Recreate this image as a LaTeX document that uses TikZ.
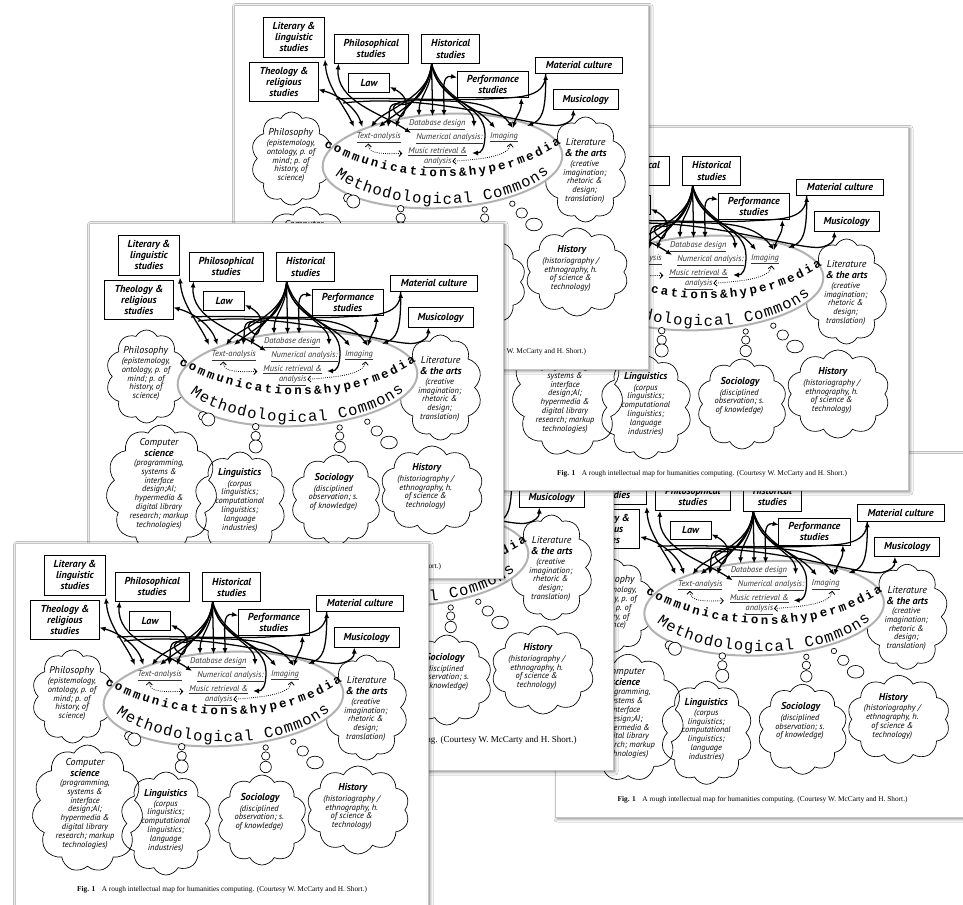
\documentclass[tikz,border=0pt]{standalone}
\usepackage{fontspec}
\setmainfont{PT Sans}
\newfontfamily\capfont{Liberation Serif}
\newfontfamily\lmono{Liberation Mono}
\usetikzlibrary{shapes.symbols,shapes.geometric,arrows.meta,decorations.text,shadows.blur}

\newcommand\boxfont{\fontsize{7.6}{8.3}\selectfont\bfseries\itshape}
\newcommand\ttlfont{\fontsize{7.5}{8.1}\selectfont\itshape}
\newcommand\ttlbf{\bfseries}
\newcommand\parfont{\fontsize{6.3}{6.6}\selectfont\itshape}
\newcommand\labfont{\fontsize{6.3}{5.7}\selectfont\itshape\color{black!80}}
\newcommand\commfont{\lmono\bfseries\fontsize{9.3}{9.3}\selectfont}
\newcommand\methfont{\lmono\fontsize{11.6}{11.6}\selectfont}

\tikzset{
 boxsty/.style={draw, fill=white, line width=0.6pt, inner sep=0pt, align=center, font=\boxfont},
 cloudsh/.style={cloud, draw, line width=0.5pt, cloud puffs=10, cloud puff arc=125, cloud ignores aspect, inner sep=0pt},
 ttl/.style={inner sep=0pt, align=center, font=\ttlfont},
 par/.style={inner sep=0pt, align=center, font=\parfont},
 lab/.style={inner sep=0pt, align=center, font=\labfont},
 bub/.style={draw, fill=white, line width=0.5pt},
 link/.style={line width=0.95pt, {Latex[length=4.5pt,width=3.8pt]}-{Latex[length=4.5pt,width=3.8pt]}},
 linkto/.style={line width=0.95pt, -{Latex[length=4.5pt,width=3.8pt]}},
 plain/.style={line width=0.95pt},
 dotlink/.style={densely dotted, line width=0.6pt, {Straight Barb[length=2.2pt,width=4.5pt]}-{Straight Barb[length=2.2pt,width=4.5pt]}},
 capsty/.style={inner sep=0pt, font=\capfont\fontsize{5.5}{6}\selectfont},
 pagefill/.style={fill=white, blur shadow={shadow xshift=1.3pt, shadow yshift=-1.3pt, shadow blur radius=2.5pt, shadow opacity=55}},
 pageline/.style={draw=gray!45, line width=0.4pt}
}

\newcommand\pagebox[4]{%
 \fill[pagefill] (#1,#2) rectangle (#3,#4);
 \draw[pageline] (#1,#2) rectangle (#3,#4);
}

\newcommand\mapcaption{\textbf{Fig. 1}\hspace{0.9em}A rough intellectual map for humanities computing. (Courtesy W. McCarty and H. Short.)}

\newcommand\mapdiagram[1]{%
 % clouds
 \node[cloudsh, minimum width=60.75pt, minimum height=69.75pt] (#1phi) at (72.5,696.5) {};
 \node[cloudsh, minimum width=62.25pt, minimum height=78.75pt] (#1lit) at (366.5,707.5) {};
 \node[cloudsh, cloud puffs=11, minimum width=83.25pt, minimum height=95.25pt] (#1cs) at (87.5,808.5) {};
 \node[cloudsh, minimum width=69pt, minimum height=77.25pt] (#1lin) at (166,823.5) {};
 \node[cloudsh, minimum width=67.5pt, minimum height=67.5pt] (#1soc) at (262,820) {};
 \node[cloudsh, minimum width=77.25pt, minimum height=66pt] (#1his) at (358,810) {};
 % the commons
 \node[ellipse, draw=gray!60, fill=white, line width=1.5pt, minimum width=180pt, minimum height=70.5pt, rotate=3, inner sep=0pt] (#1mc) at (223.5,699) {};
 % thought bubbles
 \draw[bub] (129,736) circle[radius=4.5];
 \draw[bub] (134.3,739.5) circle[radius=6.5];
 \draw[bub] (181.7,746.7) circle[radius=3.3];
 \draw[bub] (181.7,756) circle[radius=4.7];
 \draw[bub] (181.7,766.5) circle[radius=6.5];
 \draw[bub] (265.7,747.5) circle[radius=2.7];
 \draw[bub] (265.7,756) circle[radius=4.2];
 \draw[bub] (265.7,767) circle[radius=5.7];
 \draw[bub] (293.3,741.7) circle[radius=2.7];
 \draw[bub] (302.7,751) ellipse[x radius=5.8, y radius=5];
 \draw[bub] (315,762.5) ellipse[x radius=8.3, y radius=6.3];
 % cloud texts
 \node[ttl] (#1phiT) at (71.7,670.5) {Philosophy};
 \node[par] (#1phiP) at (72,699) {(epistemology,\\ontology, p. of\\mind; p. of\\history, of\\science)};
 \node[ttl] (#1litT) at (366.7,686) {Literature\\\ttlbf \& the arts};
 \node[par] (#1litP) at (365.7,719.8) {(creative\\imagination;\\rhetoric \&\\design;\\translation)};
 \node[ttl] (#1csT) at (85,767.3) {Computer\\\ttlbf science};
 \node[par] (#1csP) at (85,814.3) {(programming,\\systems \&\\interface\\design;AI;\\hypermedia \&\\digital library\\research; markup\\technologies)};
 \node[ttl, font=\ttlfont\bfseries] (#1linT) at (165.7,793.5) {Linguistics};
 \node[par] (#1linP) at (165.7,826) {(corpus\\linguistics;\\computational\\linguistics;\\language\\industries)};
 \node[ttl, font=\ttlfont\bfseries] (#1socT) at (260,797.8) {Sociology};
 \node[par] (#1socP) at (259.3,817.8) {(disciplined\\observation; s.\\of knowledge)};
 \node[ttl, font=\ttlfont\bfseries] (#1hisT) at (352.7,788.2) {History};
 \node[par] (#1hisP) at (351.7,812.5) {(historiography /\\ethnography, h.\\of science \&\\technology)};
 % labels inside the commons
 \node[lab] (#1db) at (218.3,662.5) {\underline{Database design}};
 \node[lab] (#1ta) at (159.7,676) {\underline{Text-analysis}};
 \node[lab] (#1na) at (230.5,676.7) {\underline{Numerical analysis:}};
 \node[lab] (#1im) at (285,675.3) {\underline{Imaging}};
 \node[lab] (#1mr) at (218.8,695.5) {\underline{Music retrieval \&}\\\underline{analysis}};
 % curved texts
 \path[decorate, decoration={text along path, text={|\commfont|communications{\&}hypermedia}, text align={fit to path}}]
   (105,684) .. controls (175,724) and (275,727) .. (342,682);
 \path[decorate, decoration={text along path, text={|\methfont|Methodological Commons}, text align={fit to path}}]
   (116,713) .. controls (160,750) and (280,754) .. (330,711);
 % boxes
 \node[boxsty, minimum width=46pt, minimum height=30pt] (#1bLit) at (75,575) {Literary \&\\linguistic\\studies};
 \node[boxsty, minimum width=55.7pt, minimum height=21.5pt] (#1bPhil) at (152.2,586.7) {Philosophical\\studies};
 \node[boxsty, minimum width=43.5pt, minimum height=22pt] (#1bHist) at (231.7,587) {Historical\\studies};
 \node[boxsty, minimum width=51.2pt, minimum height=29.5pt] (#1bTheo) at (64.9,619.7) {Theology \&\\religious\\studies};
 \node[boxsty, minimum width=31pt, minimum height=13.7pt] (#1bLaw) at (150,620.9) {Law};
 \node[boxsty, minimum width=53.3pt, minimum height=20pt] (#1bPerf) at (273.8,622.4) {Performance\\studies};
 \node[boxsty, minimum width=65pt, minimum height=12.5pt] (#1bMat) at (360,603.4) {Material culture};
 \node[boxsty, minimum width=48.75pt, minimum height=14.7pt] (#1bMus) at (366.5,637.5) {Musicology};
 % connector ends
 \coordinate (#1cLit) at (106,597.5);
 \coordinate (#1cTheo) at (99.5,627.5);
 \coordinate (#1cPhil) at (119.5,601.5);
 \coordinate (#1cHist) at (212.7,602);
 \coordinate (#1cLaw) at (171,625);
 \coordinate (#1cPerfL) at (238,615.5);
 \coordinate (#1cPerfB) at (302.3,636);
 \coordinate (#1cMat) at (326.7,612);
 \coordinate (#1cMus) at (354.3,647.5);
 \coordinate (#1tA) at (135,665);
 \coordinate (#1tB) at (143.5,665);
 \coordinate (#1tC) at (152,665);
 \coordinate (#1tD) at (160,665);
 \coordinate (#1tE) at (169,665);
 \coordinate (#1tF) at (177,665);
 \coordinate (#1nA) at (192,671);
 \coordinate (#1dA) at (200,654);
 \coordinate (#1dB) at (213.5,654);
 \coordinate (#1dC) at (225,654);
 \coordinate (#1nB) at (255,665);
 \coordinate (#1iA) at (276,666);
 \coordinate (#1iB) at (294,666);
 \coordinate (#1iC) at (308,664);
 \coordinate (#1mR) at (253,691);
 \coordinate (#1lS) at (117,637);
 \coordinate (#1lT) at (124,641);
 \coordinate (#1xT) at (149.3,681.5);
 \coordinate (#1xM) at (183.3,691.5);
 \coordinate (#1xI) at (291.7,681.5);
 \coordinate (#1xA) at (233.3,699.3);
 % connectors
 \draw[link] (#1cLit) .. controls +(2,28) and +(-10,-22) .. (#1tA);
 \draw[link] (#1cTheo) .. controls +(22,6) and +(-6,-18) .. (#1tB);
 \draw[link] (#1cPhil) .. controls +(-3,38) and +(-30,-20) .. (#1nA);
 \draw[linkto] (#1cHist) .. controls +(-2,34) and +(14,-18) .. (#1tC);
 \draw[linkto] (#1cHist) .. controls +(-6,36) and +(22,-18) .. (#1tD);
 \draw[linkto] (#1cHist) .. controls +(-2,22) and +(16,4) .. (180,642) .. controls +(-12,-2) and +(2,-14) .. (#1tE);
 \draw[linkto] (#1cHist) .. controls +(-3,30) and +(6,-20) .. (#1tF);
 \draw[linkto] (#1cHist) .. controls +(0,25) and +(0,-20) .. (#1dA);
 \draw[linkto] (#1cHist) .. controls +(0,18) and +(0,-18) .. (#1dB);
 \draw[link] (#1cPerfL) .. controls +(-16,-3) and +(0,-25) .. (#1dC);
 \draw[linkto] (#1cHist) .. controls +(4,32) and +(0,-22) .. (#1nB);
 \draw[linkto] (#1cHist) .. controls +(6,36) and +(-22,-26) .. (#1iA);
 \draw[link] (#1cLaw) .. controls +(12,6) and +(4,-10) .. (186,648) .. controls +(-3,9) and +(6,6) .. (176,650) .. controls +(-5,-6) and +(-20,0) .. (198,638) .. controls +(40,2) and +(-22,-30) .. (#1iB);
 \draw[link] (#1cPerfB) .. controls +(0,14) and +(3,-12) .. (#1iB);
 \draw[link] (#1cMat) .. controls +(0,40) and +(14,-6) .. (#1iC);
 \draw[plain] (#1cMat) .. controls +(0,26) and +(28,-2) .. (268,637) .. controls +(-40,2) and +(40,-2) .. (#1lS);
 \draw[linkto] (#1lT) .. controls (220,630) and (320,668) .. (342,663) .. controls +(8,-2) and +(0,10) .. (#1cMus);
 \draw[linkto] (#1cHist) .. controls +(12,40) and +(0,-30) .. (266,672) .. controls +(0,15) and +(9,0) .. (#1mR);
 \draw[dotlink] (#1xT) .. controls +(0,12) and +(-16,0) .. (#1xM);
 \draw[dotlink] (#1xI) .. controls +(-2,14) and +(25,-2) .. (#1xA);
}

\begin{document}
\begin{tikzpicture}[x=0.75pt,y=-0.75pt]
\useasboundingbox (0,0) rectangle (963,905);
\clip (0,0) rectangle (963,905);
\fill[white] (0,0) rectangle (963,905);
% E (back)
\pagebox{555.6}{453}{975}{817}
\begin{scope}[shift={(540.6,-90.7)}]
 \mapdiagram{e}
 \node[capsty] (ecap) at (222,890) {\mapcaption};
\end{scope}
% F
\pagebox{200}{403}{613}{770}
\begin{scope}[shift={(185,-140)}]
 \mapdiagram{f}
 \node[capsty, anchor=east, font=\capfont\fontsize{6.8}{7}\selectfont] (fcap) at (392,880) {\mapcaption};
\end{scope}
% B
\pagebox{495}{127}{908}{490}
\begin{scope}[shift={(480,-416)}]
 \mapdiagram{b}
 \node[capsty] (bcap) at (222,890) {\mapcaption};
\end{scope}
% A
\pagebox{234}{5}{648}{369}
\begin{scope}[shift={(219,-538)}]
 \mapdiagram{a}
 \node[capsty] (acap) at (222,890) {\mapcaption};
\end{scope}
% C
\pagebox{89}{223}{503}{578}
\begin{scope}[shift={(74,-320)}]
 \mapdiagram{c}
 \node[capsty] (ccap) at (222,887) {\mapcaption};
\end{scope}
% D (front)
\pagebox{15}{543}{428}{918}
\begin{scope}
 \mapdiagram{d}
 \node[capsty] (dcap) at (222,890) {\mapcaption};
\end{scope}
\end{tikzpicture}
\end{document}
